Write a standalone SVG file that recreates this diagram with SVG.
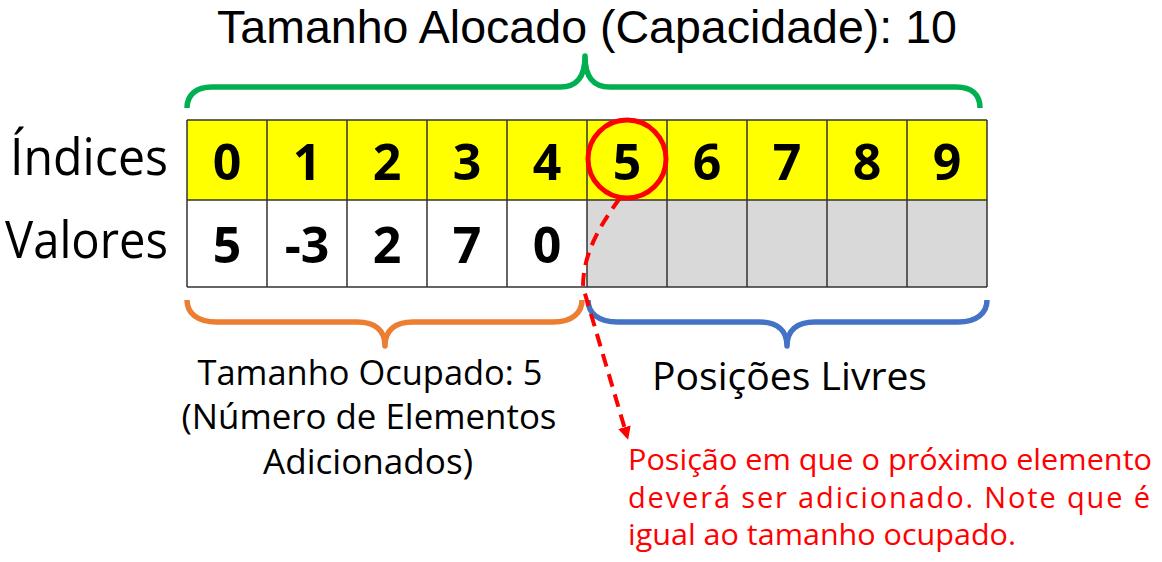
<svg xmlns="http://www.w3.org/2000/svg" width="1162" height="562" viewBox="0 0 1162 562">
<style>
.t{font-family:"Open Sans","Noto Sans","DejaVu Sans",sans-serif;fill:#000}
.d{font-family:"Open Sans","Noto Sans",sans-serif;font-weight:bold;font-size:50px;text-anchor:middle;fill:#000}
.grid{stroke:#333;stroke-width:1.5;fill:none}
.brace{fill:none;stroke-width:5.5;stroke-linecap:butt;stroke-linejoin:round}
.red{font-family:"Open Sans","Noto Sans",sans-serif;font-size:29px;fill:#FF0000}
</style>
<defs>
<marker id="ah" viewBox="0 0 10 10" refX="7" refY="5" markerWidth="13" markerHeight="13" orient="auto" markerUnits="userSpaceOnUse">
<path d="M0,0 L10,5 L0,10 z" fill="#FF0000"/>
</marker>
</defs>
<rect width="1162" height="562" fill="#fff"/>
<text x="587" y="43" font-family="'Liberation Sans', Arial, sans-serif" font-size="47" fill="#000" text-anchor="middle" textLength="740" lengthAdjust="spacingAndGlyphs">Tamanho Alocado (Capacidade): 10</text>
<g id="table">
<rect x="187" y="120" width="800" height="80" fill="#FFFF00"/>
<rect x="187" y="200" width="400" height="87" fill="#FFFFFF"/>
<rect x="587" y="200" width="400" height="87" fill="#D9D9D9"/>
<path class="grid" d="M187,120H987M187,200H987M187,287H987M187,120V287M267,120V287M347,120V287M427,120V287M507,120V287M587,120V287M667,120V287M747,120V287M827,120V287M907,120V287M987,120V287"/>
<g id="indices">
<text class="d" x="227" y="180">0</text>
<text class="d" x="307" y="180">1</text>
<text class="d" x="387" y="180">2</text>
<text class="d" x="467" y="180">3</text>
<text class="d" x="547" y="180">4</text>
<text class="d" x="627" y="180">5</text>
<text class="d" x="707" y="180">6</text>
<text class="d" x="787" y="180">7</text>
<text class="d" x="867" y="180">8</text>
<text class="d" x="947" y="180">9</text>
</g>
<g id="valores">
<text class="d" x="227" y="263">5</text>
<text class="d" x="307" y="263">-3</text>
<text class="d" x="387" y="263">2</text>
<text class="d" x="467" y="263">7</text>
<text class="d" x="547" y="263">0</text>
</g>
</g>
<text class="t" x="10" y="175" font-size="52" textLength="158" lengthAdjust="spacingAndGlyphs">Índices</text>
<text class="t" x="5" y="258" font-size="52" textLength="163" lengthAdjust="spacingAndGlyphs">Valores</text>
<g id="brace-capacidade">
<path class="brace" stroke="#00B050" d="M187,108 C187,95 196,87 212,87 L560,87 C576,87 585,78 585,56 C585,78 594,87 610,87 L956,87 C972,87 980,95 980,108"/>
</g>
<g id="brace-ocupado">
<path class="brace" stroke="#ED7D31" d="M187,300 C187,313 197,322 217,322 L357,322 C375,322 385,330 385,346 C385,330 395,322 413,322 L553,322 C572,322 582,313 582,300"/>
</g>
<g id="brace-livres">
<path class="brace" stroke="#4472C4" d="M588,300 C588,313 598,322 618,322 L759,322 C777,322 787,330 787,346 C787,330 797,322 815,322 L958,322 C977,322 987,313 987,300"/>
</g>
<g id="circle5">
<circle cx="627" cy="159" r="39" fill="none" stroke="#FF0000" stroke-width="5"/>
</g>
<g id="connectors">
<path d="M620,198 C598,228 583,255 583,287 L627,436" fill="none" stroke="#FF0000" stroke-width="4" stroke-dasharray="13,8" marker-end="url(#ah)"/>
</g>
<g id="label-ocupado">
<text class="t" x="370" y="385" font-size="35" text-anchor="middle" textLength="345" lengthAdjust="spacingAndGlyphs">Tamanho Ocupado: 5</text>
<text class="t" x="369" y="429" font-size="35" text-anchor="middle" textLength="375" lengthAdjust="spacingAndGlyphs">(Número de Elementos</text>
<text class="t" x="368" y="474" font-size="35" text-anchor="middle" textLength="210" lengthAdjust="spacingAndGlyphs">Adicionados)</text>
</g>
<g id="label-livres">
<text class="t" x="652" y="390" font-size="39" textLength="275" lengthAdjust="spacingAndGlyphs">Posições Livres</text>
</g>
<g id="label-nota">
<text class="red" x="628" y="470" textLength="524" lengthAdjust="spacingAndGlyphs">Posição em que o próximo elemento</text>
<text class="red" x="628" y="508" textLength="522" lengthAdjust="spacing">deverá ser adicionado. Note que é</text>
<text class="red" x="628" y="545" textLength="388" lengthAdjust="spacingAndGlyphs">igual ao tamanho ocupado.</text>
</g>
</svg>
